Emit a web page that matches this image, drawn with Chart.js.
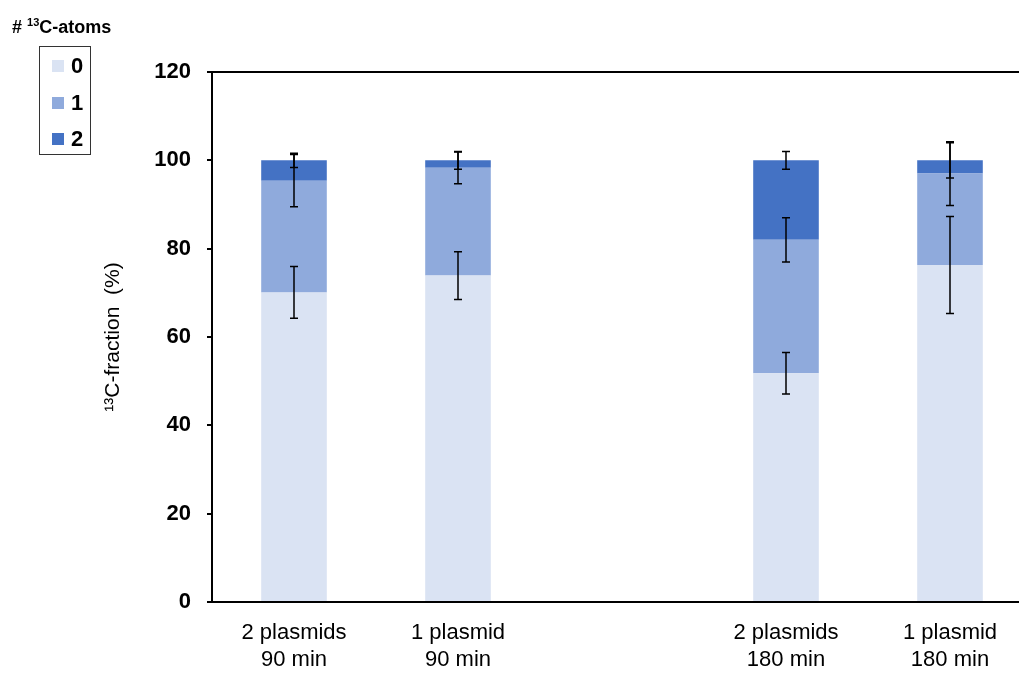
<!DOCTYPE html>
<html lang="en">
<head>
    <meta charset="UTF-8">
    <title>13C-fraction</title>
    <script src="https://cdn.jsdelivr.net/npm/chart.js"></script>
    <style>
        body {
            margin: 0;
            background-color: white;
            overflow: hidden;
            font-family: "Liberation Sans", Arial, sans-serif;
        }
        .wrap {
            position: relative;
            width: 1032px;
            height: 673px;
        }
        .legend-title {
            position: absolute;
            left: 12px;
            top: 16px;
            font-size: 18px;
            font-weight: bold;
            white-space: nowrap;
        }
        .legend-title sup { font-size: 11px; }
        .legend-box {
            position: absolute;
            left: 39px;
            top: 46px;
            width: 52px;
            height: 109px;
            border: 1px solid #333;
            box-sizing: border-box;
            padding-top: 1px;
        }
        .legend-item {
            display: flex;
            align-items: center;
            height: 36.5px;
            padding-left: 12px;
            font-size: 22px;
            font-weight: bold;
        }
        .legend-item span.sw {
            display: inline-block;
            width: 12px;
            height: 12px;
            margin-right: 7px;
        }
    </style>
</head>
<body>
    <div class="wrap">
        <canvas id="chart"></canvas>
        <div class="legend-title"># <sup>13</sup>C-atoms</div>
        <div class="legend-box" id="legend"></div>
    </div>

    <script>
        // categories (index 2 is the empty gap between the two time points)
        const categories = [['2 plasmids', '90 min'], ['1 plasmid', '90 min'], '', ['2 plasmids', '180 min'], ['1 plasmid', '180 min']];
        const atomLabels = ['0', '1', '2'];
        const atomColors = ['#DAE3F3', '#8FAADC', '#4472C4'];

        // fraction (%) per number of 13C atoms
        const atoms0 = [70.1, 73.9, null, 51.8, 76.3];
        const atoms1 = [25.3, 24.4, null, 30.2, 20.7];
        const atoms2 = [4.6, 1.7, null, 18.0, 3.0];

        // error bars (+/-)
        const err0 = [5.85, 5.4, null, 4.7, 11.0];
        const err1 = [5.9, 3.6, null, 5.0, 7.2];
        const err2 = [1.6, 2.0, null, 2.0, 4.0];

        const yTicks = [0, 20, 40, 60, 80, 100, 120];

        const seriesValues = [atoms0, atoms1, atoms2];
        const seriesErrors = [err0, err1, err2];

        // legend
        const legendEl = document.getElementById('legend');
        atomLabels.forEach((lab, i) => {
            legendEl.innerHTML += `<div class="legend-item"><span class="sw" style="background:${atomColors[i]}"></span>${lab}</div>`;
        });

        const errorBars = {
            id: 'errorBars',
            afterDatasetsDraw(chart) {
                const ctx = chart.ctx;
                const yScale = chart.scales.y;
                ctx.save();
                ctx.strokeStyle = '#000';
                ctx.lineWidth = 1.5;
                seriesValues.forEach((vals, s) => {
                    const meta = chart.getDatasetMeta(s);
                    vals.forEach((v, j) => {
                        if (v == null) return;
                        let top = 0;
                        for (let k = 0; k <= s; k++) top += seriesValues[k][j];
                        const e = seriesErrors[s][j];
                        const x = meta.data[j].x;
                        const y1 = yScale.getPixelForValue(top + e);
                        const y2 = yScale.getPixelForValue(top - e);
                        ctx.beginPath();
                        ctx.moveTo(x, y1); ctx.lineTo(x, y2);
                        ctx.moveTo(x - 4, y1); ctx.lineTo(x + 4, y1);
                        ctx.moveTo(x - 4, y2); ctx.lineTo(x + 4, y2);
                        ctx.stroke();
                    });
                });
                ctx.restore();
            }
        };

        const topLine = {
            id: 'topLine',
            afterDraw(chart) {
                const a = chart.chartArea;
                const ctx = chart.ctx;
                ctx.save();
                ctx.strokeStyle = '#000';
                ctx.lineWidth = 2;
                ctx.beginPath();
                ctx.moveTo(a.left - 5, a.top);
                ctx.lineTo(a.right, a.top);
                ctx.stroke();
                ctx.restore();
            }
        };

        const ctx = document.getElementById('chart').getContext('2d');
        new Chart(ctx, {
            type: 'bar',
            data: {
                labels: categories,
                datasets: seriesValues.map((vals, i) => ({
                    label: atomLabels[i],
                    data: vals,
                    backgroundColor: atomColors[i],
                    barPercentage: 0.4,
                    categoryPercentage: 1.0
                }))
            },
            options: {
                responsive: true,
                maintainAspectRatio: false,
                animation: false,
                layout: { padding: { left: 97, top: 72, right: 0, bottom: 0 } },
                plugins: {
                    legend: { display: false },
                    tooltip: { enabled: false }
                },
                scales: {
                    x: {
                        stacked: true,
                        grid: { display: false, drawTicks: false },
                        border: { display: true, color: '#000', width: 2 },
                        ticks: {
                            color: '#000',
                            padding: 17,
                            maxRotation: 0,
                            autoSkip: false,
                            font: { family: '"Liberation Sans", Arial', size: 22, lineHeight: 1.25 }
                        },
                        afterFit: s => { s.height = 71; }
                    },
                    y: {
                        stacked: true,
                        min: 0,
                        max: 120,
                        afterBuildTicks: s => { s.ticks = yTicks.map(v => ({ value: v })); },
                        grid: { drawOnChartArea: false, drawTicks: true, tickLength: 5, color: '#000', lineWidth: 2 },
                        border: { display: true, color: '#000', width: 2 },
                        ticks: {
                            color: '#000',
                            padding: 16,
                            font: { family: '"Liberation Sans", Arial', size: 22, weight: 'bold' }
                        },
                        title: {
                            display: true,
                            text: '\u00B9\u00B3C-fraction  (%)',
                            color: '#000',
                            font: { family: '"Liberation Sans", Arial', size: 21 }
                        },
                        afterFit: s => { s.width = 115; }
                    }
                }
            },
            plugins: [errorBars, topLine]
        });
    </script>
</body>
</html>
